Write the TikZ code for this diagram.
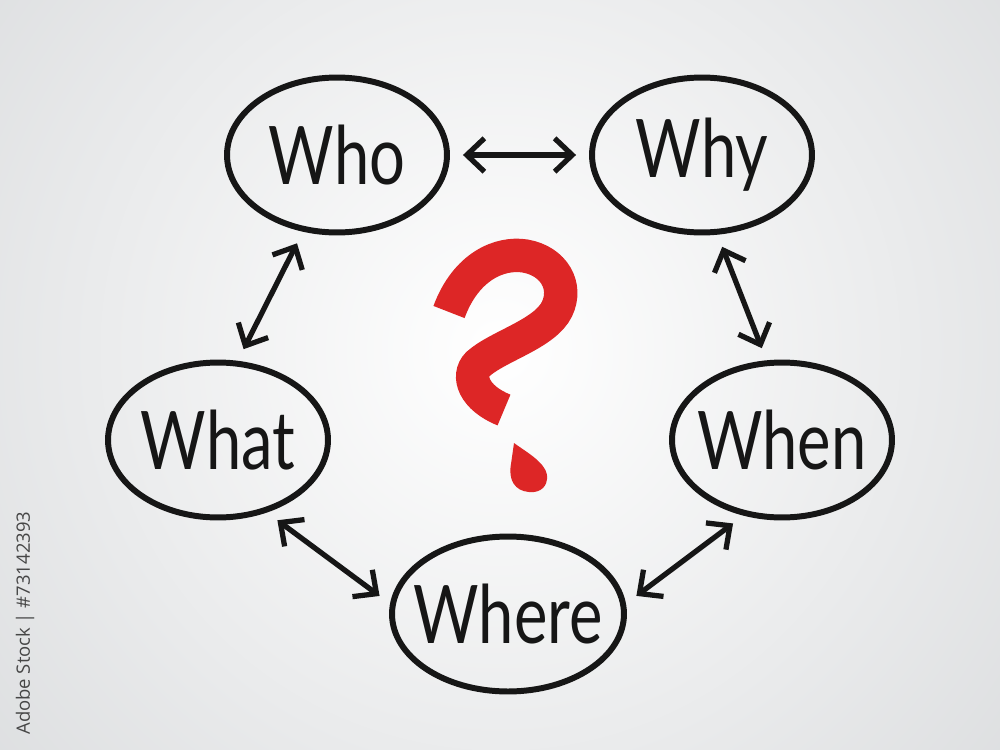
\documentclass[tikz,border=0pt]{standalone}
\usepackage{fontspec}
\setmainfont{Lato}
\newfontfamily\idfont{Open Sans}
\usetikzlibrary{shapes.geometric,arrows.meta}
\definecolor{bgout}{RGB}{214,216,218}
\definecolor{qred}{RGB}{221,38,38}
\definecolor{ink}{RGB}{22,22,22}
\definecolor{idgray}{RGB}{70,70,70}
\newlength{\unitpx}
\setlength{\unitpx}{0.02cm}
\newcommand{\handword}[1]{\makebox[0pt]{\raisebox{-2pt}{\scalebox{0.9}[1.15]{#1}}}}
\tikzset{
  wbubble/.style={ellipse, draw=ink, line width=3.4pt, minimum width=4.4cm, minimum height=3.1cm, inner sep=0pt,
    font=\fontsize{40}{40}\selectfont, text=ink},
  link/.style={draw=ink, line width=3pt, line cap=round,
    {Straight Barb[length=10pt,width=19pt,line width=3pt]}-{Straight Barb[length=10pt,width=19pt,line width=3pt]},
    shorten <=13\unitpx, shorten >=13\unitpx}
}
\begin{document}
\begin{tikzpicture}[x=0.02cm, y=-0.02cm]
  \useasboundingbox (0,0) rectangle (1000,750);
  \begin{scope}
    \clip (0,0) rectangle (1000,750);
    \shade[inner color=white, outer color=bgout] (-300,-450) rectangle (1300,1150);
  \end{scope}
  % nodes
  \node[wbubble] (who)   at (337,155) {\handword{Who}};
  \node[wbubble] (why)   at (702,155) {\handword{Why}};
  \node[wbubble] (what)  at (218,440) {\handword{What}};
  \node[wbubble] (when)  at (782,440) {\handword{When}};
  \node[wbubble, minimum width=4.64cm] (where) at (508,614) {\handword{Where}};
  % connectors
  \draw[link] (who.0) -- (why.180);
  \draw[link] (who.-114) -- (what.76);
  \draw[link] (why.-79) -- (when.101);
  \draw[link] (what.-56) -- (where.175);
  \draw[link] (when.-117) -- (where.5);
  % question mark
  \draw[qred, line width=19pt, line cap=butt]
    (449,312) .. controls (466,266) and (500,252) .. (525,256)
    .. controls (554,261) and (568,286) .. (557,309)
    .. controls (545,334) and (498,346) .. (478,364)
    .. controls (466,376) and (474,398) .. (504,410);
  \fill[qred] (514,443) .. controls (526,452) and (549,464) .. (547,479)
    .. controls (546,490) and (536,493) .. (529,492)
    .. controls (515,491) and (508,480) .. (511,464) -- cycle;
  % id text
  \node[rotate=90, anchor=west, text=idgray, font=\idfont\fontsize{10.5}{10.5}\selectfont, inner sep=0pt] (id) at (25,735) {Adobe Stock | \#73142393};
\end{tikzpicture}
\end{document}
